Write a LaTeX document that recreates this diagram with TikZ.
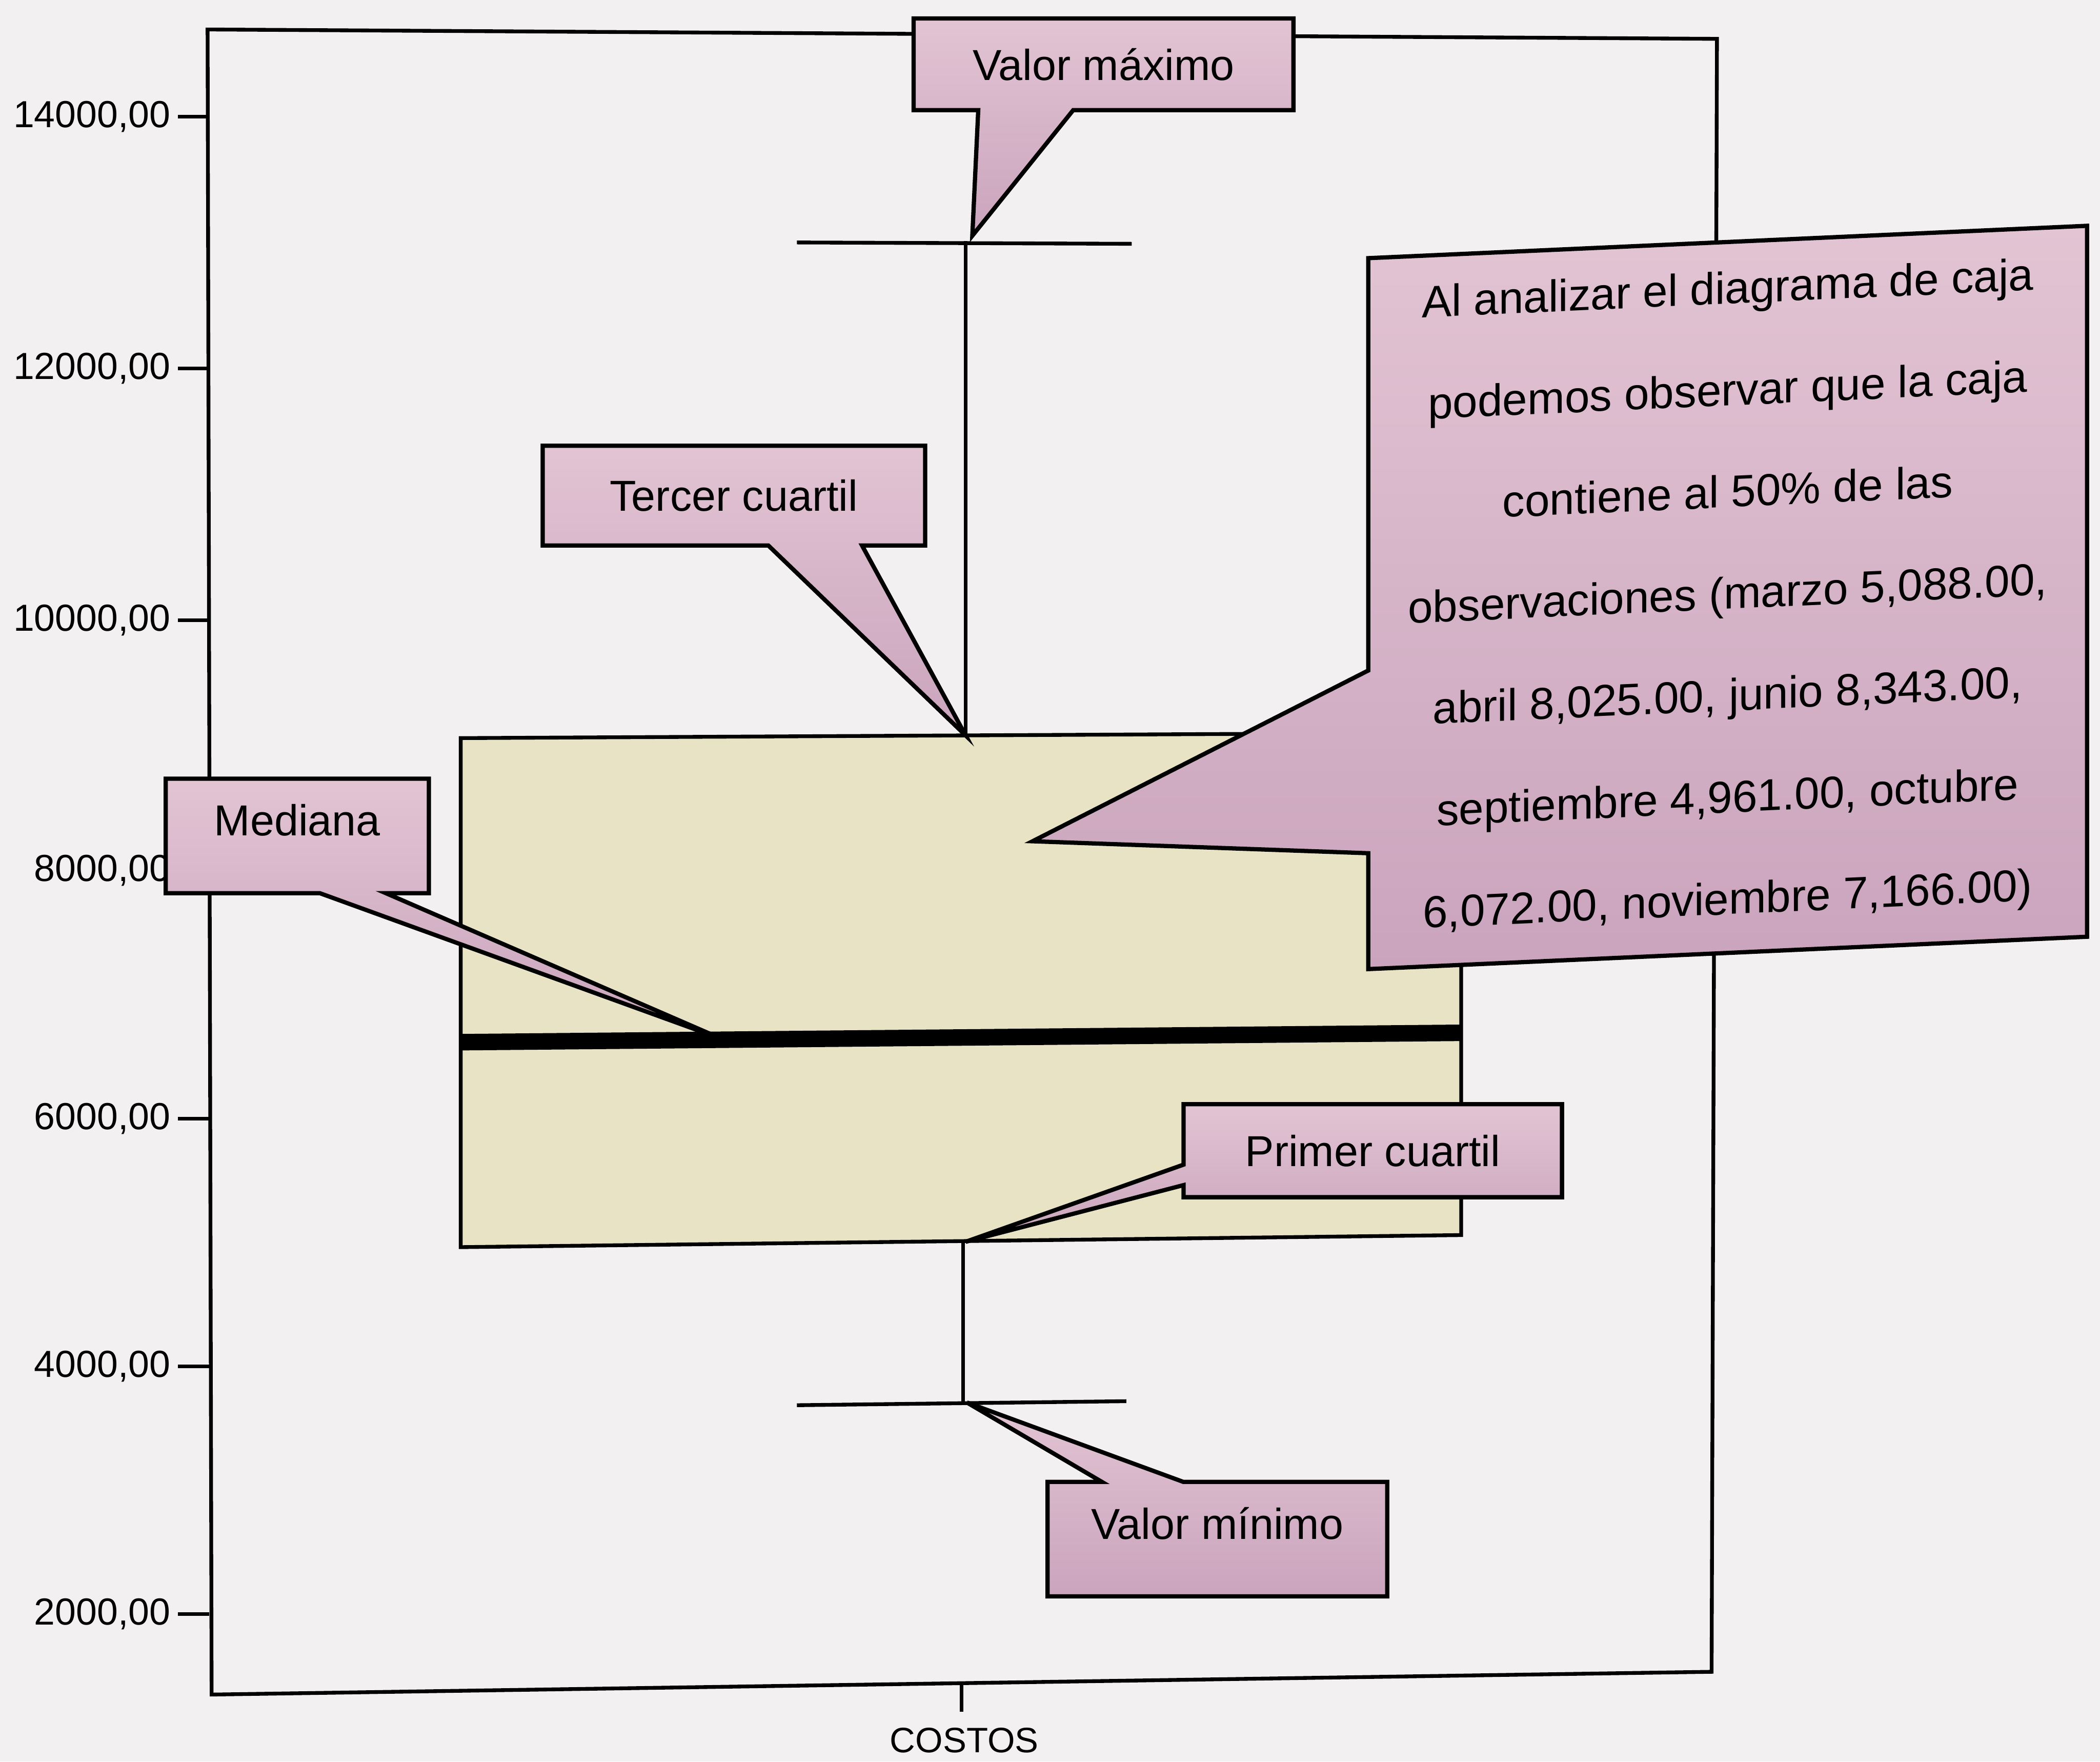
\documentclass[tikz,border=0pt]{standalone}
\usepackage{fontspec}
\setmainfont{Liberation Sans}
\usepackage{xcolor}
\usepackage{tikz}
\usetikzlibrary{calc}
\definecolor{paper}{RGB}{242,240,240}
\definecolor{boxfill}{RGB}{231,227,196}
\definecolor{bubbletop}{RGB}{226,196,211}
\definecolor{bubblebot}{RGB}{202,164,189}
\definecolor{bubblemid}{RGB}{209,175,198}
\pgfdeclarelayer{chart}
\pgfdeclarelayer{bubble}
\pgfsetlayers{chart,bubble,main}

\begin{document}
\begin{tikzpicture}[
    x=0.01cm, y=-0.01cm,
    axis/.style={line width=0.8pt},
    ticklabel/.style={anchor=east, inner sep=0pt, font=\fontsize{8}{9}\selectfont},
    tag/.style={inner sep=0pt, align=center, font=\fontsize{9.2}{11}\selectfont},
    bubble/.style={draw, line width=0.9pt, top color=bubbletop, bottom color=bubblebot}
]
\useasboundingbox (0,0) rectangle (1568,1315);

\begin{pgfonlayer}{chart}
\fill[paper] (0,0) rectangle (1568,1315);
\draw[axis] (155,22) -- (1282,29) -- (1278,1248) -- (158,1265) -- cycle;
\foreach \v/\y in {14000/87,12000/275,10000/463,8000/650,6000/835,4000/1020,2000/1205} {
    \draw[axis] (133,\y) -- (156,\y);
    \node[ticklabel] (lab\v) at (128,\y) {\v,00};
}
\draw[axis] (718,1256) -- (718,1278);
\node[font=\fontsize{7.5}{9}\selectfont] (costos) at (720,1299) {COSTOS};
\draw[axis] (721,180) -- (721,551);
\draw[axis] (719,928) -- (719,1048);
\draw[axis] (595,181) -- (845,182);
\draw[axis] (595,1049) -- (841,1046);
\draw[axis, fill=boxfill] (344,551) -- (1091,547) -- (1091,922) -- (344,931) -- cycle;
\draw[line width=3.5pt] (344,778) -- (1091,771);
\end{pgfonlayer}

\coordinate (tvmax) at (726,176);
\coordinate (ttcua) at (721,549);
\coordinate (tmed) at (540,776);
\coordinate (tpcua) at (721,927);
\coordinate (tvmin) at (722,1047);
\coordinate (tobs) at (771,628);

\node[tag, minimum width=2.82cm, minimum height=0.67cm] (vmax) at (824,48) {Valor máximo};
\node[tag, minimum width=2.84cm, minimum height=0.73cm] (tcua) at (548,370) {Tercer cuartil};
\node[tag, minimum width=1.95cm, minimum height=0.84cm, text depth=0.24cm] (med) at (222,624) {Mediana};
\node[tag, minimum width=2.81cm, minimum height=0.68cm] (pcua) at (1025,859) {Primer cuartil};
\node[tag, minimum width=2.52cm, minimum height=0.84cm, text depth=0.24cm] (vmin) at (909,1149) {Valor mínimo};
\node[tag, yslant=0.045, minimum width=5.35cm, minimum height=5.29cm, font=\fontsize{9.5}{21.6}\selectfont] (obs) at (1290,446)
    {Al analizar el diagrama de caja\\ podemos observar que la caja\\ contiene al 50\% de las\\ observaciones (marzo 5,088.00,\\ abril 8,025.00, junio 8,343.00,\\ septiembre 4,961.00, octubre\\ 6,072.00, noviembre 7,166.00)};

\begin{pgfonlayer}{bubble}
\foreach \n/\a/\b in {vmax/0.17/0.42, tcua/0.59/0.835, med/0.585/0.836} {
    \draw[bubble] (\n.north west) -- (\n.north east) -- (\n.south east) -- ($(\n.south west)!\b!(\n.south east)$)
        -- (t\n) -- ($(\n.south west)!\a!(\n.south east)$) -- (\n.south west) -- cycle;
}
\draw[bubble] (pcua.north west) -- (pcua.north east) -- (pcua.south east) -- (pcua.south west)
    -- ($(pcua.south west)!0.13!(pcua.north west)$) -- (tpcua) -- ($(pcua.south west)!0.35!(pcua.north west)$) -- cycle;
\draw[bubble] (vmin.south west) -- (vmin.north west) -- ($(vmin.north west)!0.16!(vmin.north east)$) -- (tvmin)
    -- ($(vmin.north west)!0.40!(vmin.north east)$) -- (vmin.north east) -- (vmin.south east) -- cycle;
\draw[bubble, fill=bubblemid] (obs.north west) -- (obs.north east) -- (obs.south east) -- (obs.south west)
    -- ($(obs.south west)!0.163!(obs.north west)$) -- (tobs) -- ($(obs.south west)!0.42!(obs.north west)$) -- cycle;
\end{pgfonlayer}
\end{tikzpicture}
\end{document}
